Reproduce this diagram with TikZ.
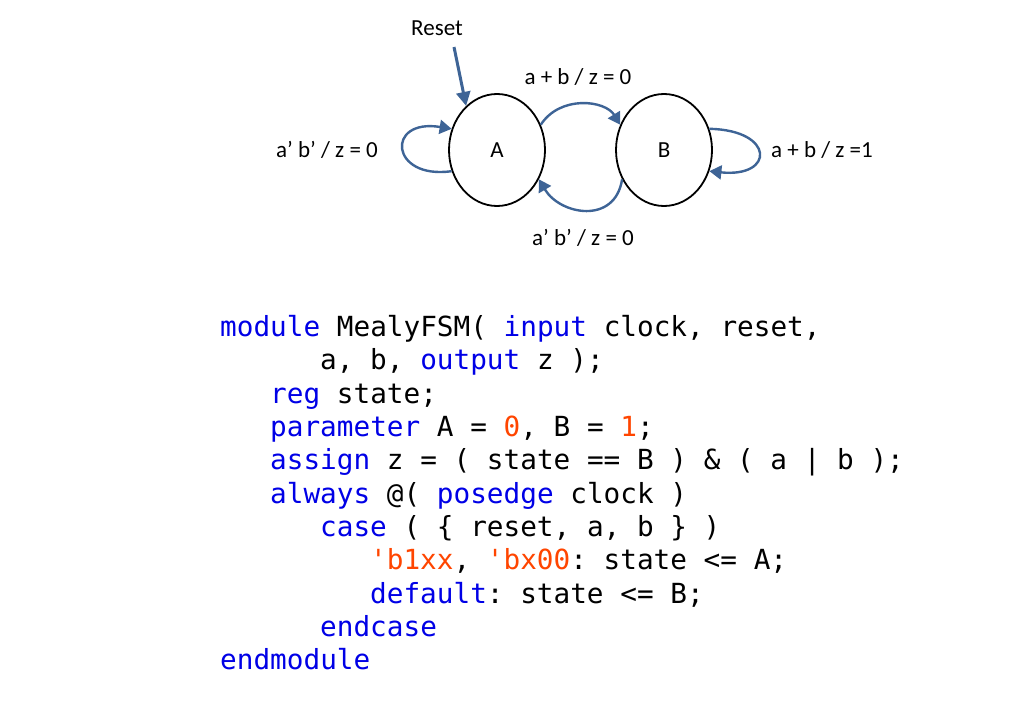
\documentclass[tikz,border=0pt]{standalone}
\usepackage{fontspec}
\setmainfont{Carlito}
\setmonofont{DejaVu Sans Mono}
\usetikzlibrary{shapes.geometric,arrows.meta}
\definecolor{kw}{RGB}{0,0,230}
\definecolor{num}{RGB}{255,69,0}
\definecolor{arr}{RGB}{62,100,150}
\newcommand{\K}[1]{\textcolor{kw}{#1}}
\newcommand{\N}[1]{\textcolor{num}{#1}}
\begin{document}
\begin{tikzpicture}[x=1pt,y=-1pt,
  st/.style={ellipse,draw,line width=1.8pt,minimum width=96pt,minimum height=112pt,font=\fontsize{23}{26}\selectfont},
  lbl/.style={font=\fontsize{23}{26}\selectfont},
  tr/.style={draw=arr,line width=2.4pt,-{Triangle[length=12pt,width=14pt]}},
  code/.style={anchor=base west,inner sep=0pt,font=\ttfamily\fontsize{27.7}{30}\selectfont}]
\useasboundingbox (0,0) rectangle (1024,722);
\node[st] (A) at (497,150) {A};
\node[st] (B) at (664,150) {B};
\node[lbl] (reset) at (437,28) {Reset};
\node[lbl] (l1) at (578,77) {a + b / z = 0};
\node[lbl] (l2) at (583,238) {a’ b’ / z = 0};
\node[lbl] (l3) at (327,150) {a’ b’ / z = 0};
\node[lbl] (l4) at (822,150) {a + b / z =1};
\draw[draw=arr,line width=3pt,-{Triangle[length=14pt,width=14pt]}] (reset.south)++(17,8) coordinate (r0) -- (A.125);
\draw[tr] (A.205) .. controls (390,180) and (385,118) .. (A.155);
\draw[tr] (A.30) .. controls (560,95) and (605,100) .. (B.150);
\draw[tr] (B.215) .. controls (615,225) and (560,215) .. (A.325);
\draw[tr] (B.25) .. controls (775,130) and (775,178) .. (B.335);
\node[code] (c1) at (220,336) {\K{module} MealyFSM( \K{input} clock, reset,};
\node[code] (c2) at (320,369.5) {a, b, \K{output} z );};
\node[code] (c3) at (270,403) {\K{reg} state;};
\node[code] (c4) at (270,436) {\K{parameter} A = \N{0}, B = \N{1};};
\node[code] (c5) at (270,469.5) {\K{assign} z = ( state == B ) \& ( a | b );};
\node[code] (c6) at (270,503) {\K{always} @( \K{posedge} clock )};
\node[code] (c7) at (320,536) {\K{case} ( \{ reset, a, b \} )};
\node[code] (c8) at (370,569.5) {\N{'b1xx}, \N{'bx00}: state <= A;};
\node[code] (c9) at (370,603) {\K{default}: state <= B;};
\node[code] (c10) at (320,636) {\K{endcase}};
\node[code] (c11) at (220,669.5) {\K{endmodule}};
\end{tikzpicture}
\end{document}
